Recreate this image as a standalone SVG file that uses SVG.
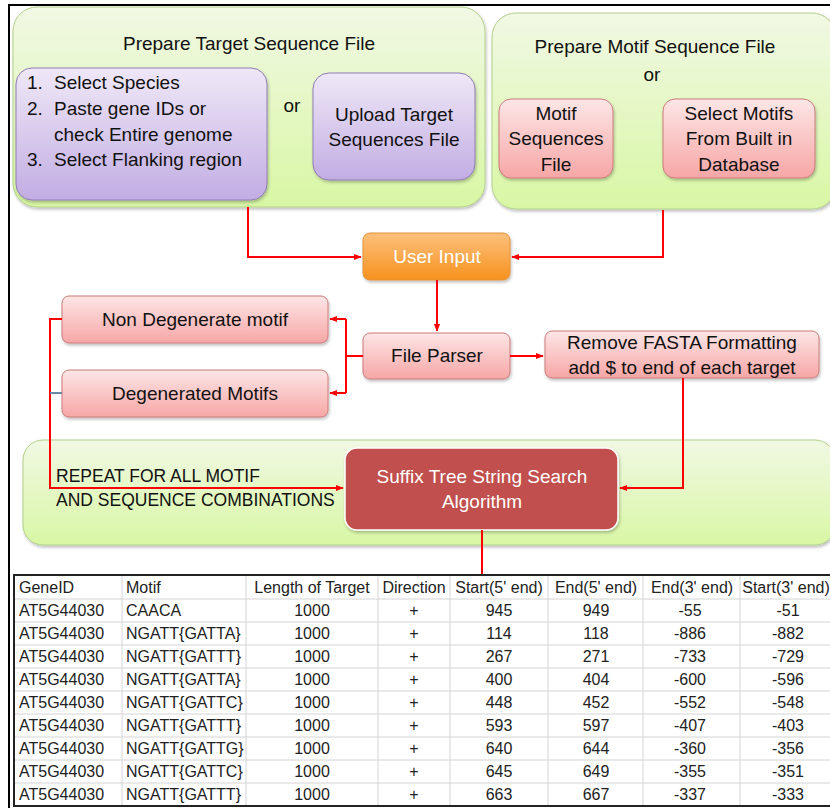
<svg xmlns="http://www.w3.org/2000/svg" width="830" height="808" viewBox="0 0 830 808">
<defs>
<linearGradient id="gGreen" x1="0" y1="0" x2="0" y2="1">
<stop offset="0" stop-color="#f1f8e4"/><stop offset="1" stop-color="#d8f7a4"/>
</linearGradient>
<linearGradient id="gPurple" x1="0" y1="0" x2="0" y2="1">
<stop offset="0" stop-color="#efe8f7"/><stop offset="1" stop-color="#c2ade3"/>
</linearGradient>
<linearGradient id="gPink" x1="0" y1="0" x2="0" y2="1">
<stop offset="0" stop-color="#fde6e6"/><stop offset="1" stop-color="#f7a6a6"/>
</linearGradient>
<linearGradient id="gOrange" x1="0" y1="0" x2="0" y2="1">
<stop offset="0" stop-color="#fcc07c"/><stop offset="1" stop-color="#f7921e"/>
</linearGradient>
<filter id="sh" x="-10%" y="-10%" width="120%" height="130%">
<feDropShadow dx="1" dy="2" stdDeviation="1.5" flood-color="#000" flood-opacity="0.25"/>
</filter>
<marker id="ah" viewBox="0 0 10 10" refX="9" refY="5" markerWidth="4" markerHeight="4" orient="auto" markerUnits="strokeWidth">
<path d="M0,1 L10,5 L0,9 z" fill="#ff0000"/>
</marker>
</defs>
<style>
.t{font-family:"Liberation Sans",Arial,sans-serif;fill:#111;}
.big{font-size:19px;}
.caps{font-size:17.5px;}
.c{text-anchor:middle;}
.w{fill:#fff;}
.green{fill:url(#gGreen);stroke:#b4d08a;stroke-width:1;filter:url(#sh);}
.purple{fill:url(#gPurple);stroke:#8f7cb5;stroke-width:1;filter:url(#sh);}
.pink{fill:url(#gPink);stroke:#cd7b7b;stroke-width:1;filter:url(#sh);}
.conn{fill:none;stroke:#ff0000;stroke-width:2;}
.tb{font-family:"Liberation Sans",Arial,sans-serif;font-size:16px;fill:#222;}
.grid{stroke:#d4d4d4;stroke-width:1;}
</style>
<rect x="0" y="0" width="830" height="808" fill="#fff"/>
<!-- frame -->
<path d="M9,808 L9,5 L830,5" fill="none" stroke="#000" stroke-width="2"/>

<g id="panel-target">
<rect class="green" x="13" y="7" width="472" height="200" rx="24"/>
<text class="t big c" x="249" y="50">Prepare Target Sequence File</text>
</g>
<g id="select-steps">
<rect class="purple" x="16" y="68" width="251" height="132" rx="16"/>
<text class="t big" x="27" y="89">1.</text><text class="t big" x="54" y="89">Select Species</text>
<text class="t big" x="27" y="115">2.</text><text class="t big" x="54" y="115">Paste gene IDs or</text>
<text class="t big" x="54" y="141">check Entire genome</text>
<text class="t big" x="27" y="166">3.</text><text class="t big" x="54" y="166">Select Flanking region</text>
</g>
<g id="or-target"><text class="t big c" x="292" y="112">or</text></g>
<g id="upload-target">
<rect class="purple" x="313" y="73" width="162" height="107" rx="16"/>
<text class="t big c" x="394" y="121">Upload Target</text>
<text class="t big c" x="394" y="146">Sequences File</text>
</g>

<g id="panel-motif">
<rect class="green" x="492" y="13" width="344" height="196" rx="24"/>
<text class="t big c" x="655" y="53">Prepare Motif Sequence File</text>
<text class="t big c" x="652" y="81">or</text>
</g>
<g id="motif-file">
<rect class="pink" x="499" y="99" width="114" height="79" rx="12"/>
<text class="t big c" x="556" y="120">Motif</text>
<text class="t big c" x="556" y="145">Sequences</text>
<text class="t big c" x="556" y="171">File</text>
</g>
<g id="motif-db">
<rect class="pink" x="663" y="99" width="152" height="79" rx="12"/>
<text class="t big c" x="739" y="120">Select Motifs</text>
<text class="t big c" x="739" y="145">From Built in</text>
<text class="t big c" x="739" y="171">Database</text>
</g>

<g id="user-input">
<rect x="363" y="233" width="147" height="47" rx="7" fill="url(#gOrange)" stroke="#e3923a" stroke-width="1" filter="url(#sh)"/>
<text class="t big c w" x="437" y="263">User Input</text>
</g>
<g id="file-parser">
<rect class="pink" x="363" y="333" width="147" height="46" rx="7"/>
<text class="t big c" x="437" y="362">File Parser</text>
</g>
<g id="non-degenerate">
<rect class="pink" x="62" y="296" width="266" height="47" rx="7"/>
<text class="t big c" x="195" y="326">Non Degenerate motif</text>
</g>
<g id="degenerated">
<rect class="pink" x="62" y="370" width="266" height="47" rx="7"/>
<text class="t big c" x="195" y="400">Degenerated Motifs</text>
</g>
<g id="remove-fasta">
<rect class="pink" x="545" y="331" width="274" height="47" rx="7"/>
<text class="t big c" x="682" y="349">Remove FASTA Formatting</text>
<text class="t big c" x="682" y="374">add $ to end of each target</text>
</g>

<g id="repeat-band">
<rect class="green" x="23" y="440" width="812" height="105" rx="20"/>
<text class="t caps" x="56" y="482">REPEAT FOR ALL MOTIF</text>
<text class="t caps" x="56" y="506">AND SEQUENCE COMBINATIONS</text>
</g>
<g id="suffix-tree">
<rect x="345" y="448" width="273" height="82" rx="12" fill="#c0504d" stroke="#fff" stroke-width="1.5" filter="url(#sh)"/>
<text class="t big c w" x="482" y="483">Suffix Tree String Search</text>
<text class="t big c w" x="482" y="508">Algorithm</text>
</g>

<g id="connectors">
<path class="conn" d="M248,207 L248,257 L361,257" marker-end="url(#ah)"/>
<path class="conn" d="M663,210 L663,257 L512,257" marker-end="url(#ah)"/>
<path class="conn" d="M437,280 L437,331" marker-end="url(#ah)"/>
<path class="conn" d="M363,356 L346,356"/>
<path class="conn" d="M346,319 L346,393"/>
<path class="conn" d="M346,319 L330,319" marker-end="url(#ah)"/>
<path class="conn" d="M346,393 L330,393" marker-end="url(#ah)"/>
<path class="conn" d="M510,356 L543,356" marker-end="url(#ah)"/>
<path class="conn" d="M683,378 L683,488 L620,488" marker-end="url(#ah)"/>
<path class="conn" d="M62,319 L50,319 L50,488 L343,488" marker-end="url(#ah)"/>
<path d="M62,393 L50,393" fill="none" stroke="#6b86a6" stroke-width="2"/>
<path class="conn" d="M482,530 L482,575" stroke-width="3"/>
</g>

<g id="results-table">
<rect x="14" y="575" width="820" height="231" fill="#fff"/>
<g class="grid">
<line x1="14" y1="599" x2="830" y2="599"/>
<line x1="14" y1="622" x2="830" y2="622"/>
<line x1="14" y1="645" x2="830" y2="645"/>
<line x1="14" y1="668" x2="830" y2="668"/>
<line x1="14" y1="691" x2="830" y2="691"/>
<line x1="14" y1="714" x2="830" y2="714"/>
<line x1="14" y1="737" x2="830" y2="737"/>
<line x1="14" y1="760" x2="830" y2="760"/>
<line x1="14" y1="783" x2="830" y2="783"/>
<line x1="122" y1="575" x2="122" y2="806"/>
<line x1="246" y1="575" x2="246" y2="806"/>
<line x1="378" y1="575" x2="378" y2="806"/>
<line x1="450" y1="575" x2="450" y2="806"/>
<line x1="548" y1="575" x2="548" y2="806"/>
<line x1="643" y1="575" x2="643" y2="806"/>
<line x1="740" y1="575" x2="740" y2="806"/>
</g>
<path d="M834,575 L14,575 L14,806 L834,806" fill="none" stroke="#222" stroke-width="2"/>
<g class="tb">
<text x="19" y="593">GeneID</text><text x="126" y="593">Motif</text>
<g text-anchor="middle"><text x="312" y="593">Length of Target</text><text x="414" y="593">Direction</text><text x="499" y="593">Start(5' end)</text><text x="596" y="593">End(5' end)</text><text x="692" y="593">End(3' end)</text><text x="786" y="593">Start(3' end)</text></g>
</g>
<g class="tb">
<text x="19" y="616">AT5G44030</text><text x="126" y="616">CAACA</text>
<text x="19" y="639">AT5G44030</text><text x="126" y="639">NGATT{GATTA}</text>
<text x="19" y="662">AT5G44030</text><text x="126" y="662">NGATT{GATTT}</text>
<text x="19" y="685">AT5G44030</text><text x="126" y="685">NGATT{GATTA}</text>
<text x="19" y="708">AT5G44030</text><text x="126" y="708">NGATT{GATTC}</text>
<text x="19" y="731">AT5G44030</text><text x="126" y="731">NGATT{GATTT}</text>
<text x="19" y="754">AT5G44030</text><text x="126" y="754">NGATT{GATTG}</text>
<text x="19" y="777">AT5G44030</text><text x="126" y="777">NGATT{GATTC}</text>
<text x="19" y="800">AT5G44030</text><text x="126" y="800">NGATT{GATTT}</text>
</g>
<g class="tb" text-anchor="middle">
<text x="312" y="616">1000</text><text x="414" y="616">+</text><text x="499" y="616">945</text><text x="596" y="616">949</text><text x="690" y="616">-55</text><text x="788" y="616">-51</text>
<text x="312" y="639">1000</text><text x="414" y="639">+</text><text x="499" y="639">114</text><text x="596" y="639">118</text><text x="690" y="639">-886</text><text x="788" y="639">-882</text>
<text x="312" y="662">1000</text><text x="414" y="662">+</text><text x="499" y="662">267</text><text x="596" y="662">271</text><text x="690" y="662">-733</text><text x="788" y="662">-729</text>
<text x="312" y="685">1000</text><text x="414" y="685">+</text><text x="499" y="685">400</text><text x="596" y="685">404</text><text x="690" y="685">-600</text><text x="788" y="685">-596</text>
<text x="312" y="708">1000</text><text x="414" y="708">+</text><text x="499" y="708">448</text><text x="596" y="708">452</text><text x="690" y="708">-552</text><text x="788" y="708">-548</text>
<text x="312" y="731">1000</text><text x="414" y="731">+</text><text x="499" y="731">593</text><text x="596" y="731">597</text><text x="690" y="731">-407</text><text x="788" y="731">-403</text>
<text x="312" y="754">1000</text><text x="414" y="754">+</text><text x="499" y="754">640</text><text x="596" y="754">644</text><text x="690" y="754">-360</text><text x="788" y="754">-356</text>
<text x="312" y="777">1000</text><text x="414" y="777">+</text><text x="499" y="777">645</text><text x="596" y="777">649</text><text x="690" y="777">-355</text><text x="788" y="777">-351</text>
<text x="312" y="800">1000</text><text x="414" y="800">+</text><text x="499" y="800">663</text><text x="596" y="800">667</text><text x="690" y="800">-337</text><text x="788" y="800">-333</text>
</g>
</g>
</svg>
